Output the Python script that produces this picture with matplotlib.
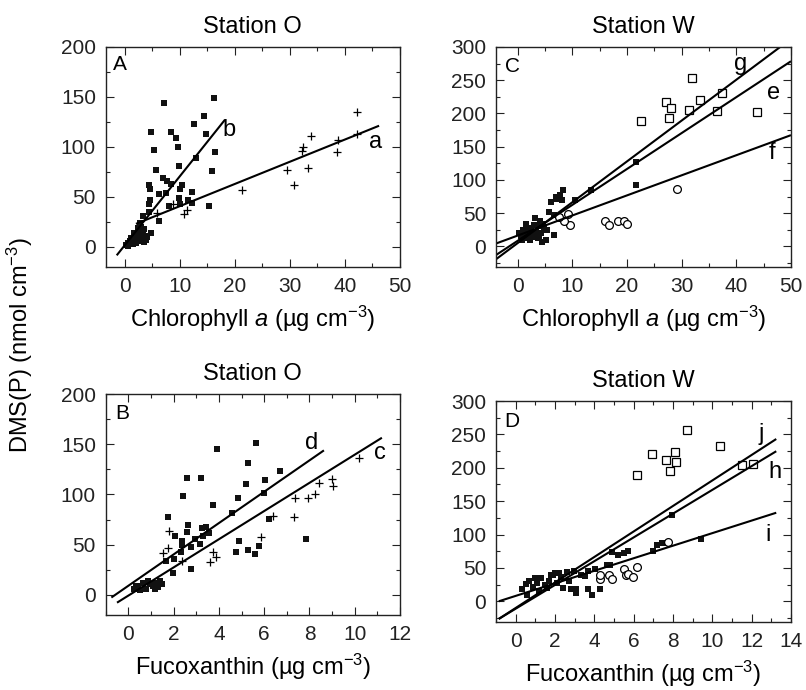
import matplotlib.pyplot as plt
import numpy as np
from matplotlib.ticker import MultipleLocator

plt.rcParams['font.family'] = ['Liberation Sans', 'DejaVu Sans']
plt.rcParams['mathtext.fontset'] = 'custom'
plt.rcParams['mathtext.rm'] = 'Liberation Sans'
plt.rcParams['mathtext.it'] = 'Liberation Sans:italic'

# ---- Panel A: Station O, chlorophyll a ----
a_sq_x = [16.1, 7.1, 14.4, 12.6, 4.7, 8.3, 14.8, 9.3, 5.2, 9.6, 16.4, 13.0, 5.6, 9.9, 15.9,
          7.0, 7.6, 4.4, 8.3, 10.4, 4.6, 10.0, 6.1, 7.5, 12.2, 4.6, 9.8, 11.5, 4.4, 8.0,
          10.0, 12.2, 15.2, 3.3, 4.3, 6.2, 2.8, 4.7,
          0.2, 0.5, 0.8, 1.0, 1.2, 1.5, 1.8, 2.0, 2.2, 2.5, 2.7, 3.0, 3.2, 3.5, 0.6, 1.4,
          2.0, 2.6, 3.4, 3.8, 4.0, 3.0, 2.8, 2.3, 1.7, 1.1, 2.4, 3.6]
a_sq_y = [149, 144, 131, 123, 115, 115, 113, 109, 97, 100, 95, 89, 77, 81, 76,
          69, 66, 62, 63, 62, 58, 58, 53, 54, 55, 47, 49, 47, 43, 41,
          43, 44, 41, 31, 35, 26, 22, 14,
          2, 4, 3, 6, 5, 8, 7, 10, 12, 9, 14, 16, 12, 18, 1, 3,
          4, 6, 5, 7, 10, 20, 24, 19, 14, 9, 16, 11]
a_pl_x = [42.1, 42.1, 38.8, 38.5, 33.9, 32.4, 32.1, 29.4, 33.3, 30.8, 21.2, 11.2, 10.7, 5.8, 8.7]
a_pl_y = [135, 113, 107, 95, 111, 100, 96, 77, 79, 62, 57, 37, 33, 34, 43]
line_a = (2.22, 18.7, 2.0, 46.2)
line_b = (6.89, 2.0, -1.5, 18.2)

# ---- Panel B: Station O, fucoxanthin ----
b_sq_x = [5.65, 3.93, 5.30, 2.59, 3.19, 6.69, 5.18, 6.03, 5.99, 2.43, 4.83, 3.74, 4.59, 1.75,
          6.21, 2.63, 3.25, 3.45, 2.57, 3.56, 3.31, 2.06, 2.96, 2.38, 2.79, 2.36, 3.17, 4.91,
          7.84, 5.78, 5.30, 4.74, 5.59, 2.31, 1.65, 2.02, 2.75, 1.97,
          0.25, 0.42, 0.65, 0.87, 1.09, 1.24, 1.39, 1.47, 0.80, 0.50, 1.17, 0.32, 0.95, 1.32]
b_sq_y = [151, 145, 131, 116, 116, 123, 110, 114, 101, 98, 96, 90, 82, 78,
          76, 70, 67, 68, 63, 62, 59, 59, 56, 54, 48, 50, 51, 54,
          56, 49, 45, 43, 41, 43, 34, 36, 26, 22,
          6, 9, 12, 14, 9, 12, 14, 11, 6, 5, 6, 9, 11, 8]
b_pl_x = [1.81, 1.75, 1.55, 2.36, 3.72, 3.60, 3.86, 5.84, 6.40, 7.34, 7.32, 7.93, 8.23, 8.42,
          9.00, 9.05, 10.18]
b_pl_y = [64, 47, 42, 34, 43, 33, 38, 58, 79, 96, 78, 96, 100, 111, 115, 108, 136]
line_c = (14.03, -0.7, -0.5, 11.2)
line_d = (15.6, 9.1, -0.75, 8.64)

# ---- Panel C: Station W, chlorophyll a ----
c_osq_x = [31.9, 27.1, 28.0, 27.6, 22.6, 31.4, 33.3, 37.4, 36.5, 43.8]
c_osq_y = [253, 218, 208, 193, 188, 205, 220, 231, 204, 202]
c_circ_x = [29.2, 15.9, 16.6, 18.3, 19.4, 20.0, 9.1, 9.5, 8.4, 7.5]
c_circ_y = [87, 38, 32, 38, 38, 34, 48, 32, 38, 44]
c_sq_x = [21.6, 21.6, 13.4, 8.2, 7.8, 7.2, 8.0, 6.9, 10.4, 6.0, 5.7, 6.7, 7.8,
          1.4, 3.2, 5.1, 6.6, 0.5, 0.8, 1.1, 1.6, 2.0, 2.4, 2.8, 3.3, 3.8, 4.3, 4.8,
          1.0, 1.9, 2.6, 3.0, 3.6, 4.0, 4.6, 5.4, 0.3, 1.3, 2.2, 3.9, 4.4]
c_sq_y = [127, 92, 85, 85, 78, 72, 70, 75, 70, 67, 52, 47, 44,
          34, 42, 9, 17, 15, 10, 20, 12, 18, 25, 14, 22, 30, 20, 27,
          25, 28, 20, 32, 12, 38, 33, 24, 20, 14, 10, 16, 6]
line_e = (5.40, 8.6, -4.0, 50.0)
line_f = (3.02, 16.4, -4.0, 50.0)
line_g = (6.14, 5.2, -4.0, 50.0)

# ---- Panel D: Station W, fucoxanthin ----
d_osq_x = [8.72, 10.37, 6.92, 8.08, 7.66, 8.15, 7.83, 6.15, 11.49, 12.05]
d_osq_y = [256, 232, 220, 223, 211, 208, 195, 189, 204, 206]
d_circ_x = [7.74, 4.31, 4.75, 4.88, 4.28, 5.50, 5.59, 5.73, 5.95, 6.15]
d_circ_y = [89, 33, 40, 34, 40, 48, 40, 41, 37, 52]
d_sq_x = [7.95, 9.40, 7.44, 7.18, 7.57, 6.96, 5.69, 5.50, 5.21, 4.90, 4.62, 4.79, 4.02,
          3.68, 4.27, 3.68, 3.88, 3.08, 3.08, 2.82, 2.99, 2.6, 2.3, 2.0, 1.8, 0.99, 0.34,
          0.5, 0.7, 0.9, 1.1, 1.3, 1.5, 1.7, 1.9, 2.1, 2.4, 0.6, 1.2, 1.6, 2.2, 2.7, 3.3, 3.5]
d_sq_y = [129, 93, 88, 85, 87, 75, 76, 73, 69, 74, 55, 54, 48,
          45, 19, 19, 9, 19, 13, 18, 45, 44, 36, 42, 40, 35, 18,
          26, 30, 22, 27, 35, 24, 30, 40, 28, 20, 10, 15, 20, 42, 30, 40, 38]
line_h = (17.8, -11.1, -0.86, 13.25)
line_i = (9.4, 8.1, -0.86, 13.25)
line_j = (19.1, -10.0, -0.86, 13.25)

W, H = 806, 690
fig = plt.figure(figsize=(W / 100, H / 100), dpi=100)


def box(l, t, r, b):
    return [l / W, 1 - b / H, (r - l) / W, (b - t) / H]


axA = fig.add_axes(box(105.7, 47, 400, 267))
axC = fig.add_axes(box(496, 47, 791, 267))
axB = fig.add_axes(box(105.7, 394, 400, 615))
axD = fig.add_axes(box(496, 401, 791, 622))


def draw_line(ax, p):
    slope, icpt, x0, x1 = p
    xs = np.array([x0, x1])
    ax.plot(xs, slope * xs + icpt, color='black', lw=1.5, solid_capstyle='butt')


def filled(ax, x, y):
    ax.plot(x, y, 's', color='#111111', ms=4.4, mew=0)


def plus(ax, x, y):
    ax.plot(x, y, '+', color='black', ms=6, mew=0.9)


def open_sq(ax, x, y):
    ax.plot(x, y, 's', mfc='white', mec='black', ms=5.8, mew=0.9)


def open_circ(ax, x, y):
    ax.plot(x, y, 'o', mfc='white', mec='black', ms=5.6, mew=0.9)


def style(ax, xlim, ylim, xmaj, xmin, ymaj, ymin):
    ax.set_xlim(*xlim)
    ax.set_ylim(*ylim)
    ax.xaxis.set_major_locator(MultipleLocator(xmaj))
    ax.xaxis.set_minor_locator(MultipleLocator(xmin))
    ax.yaxis.set_major_locator(MultipleLocator(ymaj))
    ax.yaxis.set_minor_locator(MultipleLocator(ymin))
    ax.tick_params(which='both', direction='in', top=True, right=True, labelsize=15,
                   width=0.8, colors='#222222', labelcolor='#222222')
    ax.tick_params(which='major', length=6, pad=7)
    ax.tick_params(which='minor', length=3)
    for s in ax.spines.values():
        s.set_linewidth(1.0)
        s.set_color('#222222')


# A
filled(axA, a_sq_x, a_sq_y)
plus(axA, a_pl_x, a_pl_y)
draw_line(axA, line_a)
draw_line(axA, line_b)
style(axA, (-3.5, 50), (-20, 200), 10, 5, 50, 25)
axA.text(45.5, 105, 'a', fontsize=17, ha='center', va='center')
axA.text(19, 117, 'b', fontsize=17, ha='center', va='center')
axA.text(-2.2, 182, 'A', fontsize=15, ha='left', va='center')
axA.set_title('Station O', fontsize=17, pad=10)
axA.set_xlabel('Chlorophyll $\\mathit{a}$ (µg cm$^{-3}$)', fontsize=17, labelpad=6)

# C
filled(axC, c_sq_x, c_sq_y)
open_sq(axC, c_osq_x, c_osq_y)
open_circ(axC, c_circ_x, c_circ_y)
draw_line(axC, line_e)
draw_line(axC, line_f)
draw_line(axC, line_g)
style(axC, (-4, 50), (-31, 300), 10, 5, 50, 25)
axC.text(40.7, 274, 'g', fontsize=17, ha='center', va='center')
axC.text(46.8, 231, 'e', fontsize=17, ha='center', va='center')
axC.text(46.5, 141, 'f', fontsize=17, ha='center', va='center')
axC.text(-2.4, 271, 'C', fontsize=15, ha='left', va='center')
axC.set_title('Station W', fontsize=17, pad=10)
axC.set_xlabel('Chlorophyll $\\mathit{a}$ (µg cm$^{-3}$)', fontsize=17, labelpad=6)

# B
filled(axB, b_sq_x, b_sq_y)
plus(axB, b_pl_x, b_pl_y)
draw_line(axB, line_c)
draw_line(axB, line_d)
style(axB, (-1, 12), (-20, 200), 2, 1, 50, 25)
axB.text(11.1, 141, 'c', fontsize=17, ha='center', va='center')
axB.text(8.1, 151, 'd', fontsize=17, ha='center', va='center')
axB.text(-0.6, 181, 'B', fontsize=15, ha='left', va='center')
axB.set_title('Station O', fontsize=17, pad=10)
axB.set_xlabel('Fucoxanthin (µg cm$^{-3}$)', fontsize=17, labelpad=6)

# D
filled(axD, d_sq_x, d_sq_y)
open_sq(axD, d_osq_x, d_osq_y)
open_circ(axD, d_circ_x, d_circ_y)
draw_line(axD, line_h)
draw_line(axD, line_i)
draw_line(axD, line_j)
style(axD, (-1, 14), (-31, 300), 2, 1, 50, 25)
axD.text(12.5, 250, 'j', fontsize=17, ha='center', va='center')
axD.text(13.2, 193, 'h', fontsize=17, ha='center', va='center')
axD.text(12.85, 100, 'i', fontsize=17, ha='center', va='center')
axD.text(-0.6, 270, 'D', fontsize=15, ha='left', va='center')
axD.set_title('Station W', fontsize=17, pad=10)
axD.set_xlabel('Fucoxanthin (µg cm$^{-3}$)', fontsize=17, labelpad=6)

fig.text(20 / W, 1 - 345 / H, 'DMS(P) (nmol cm$^{-3}$)', fontsize=17, rotation=90,
         ha='center', va='center')

fig.savefig('out.png', dpi=100)
